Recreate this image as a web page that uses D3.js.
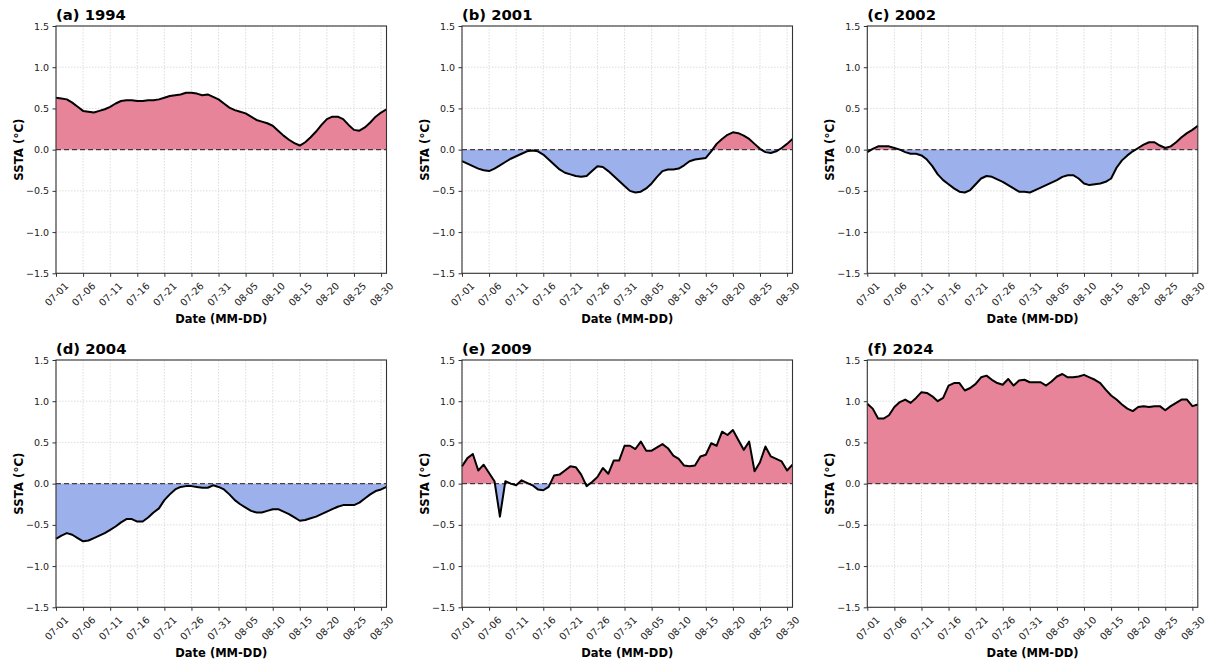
<!DOCTYPE html>
<html>
<head>
<meta charset="utf-8">
<script src="https://cdn.jsdelivr.net/npm/d3@7"></script>
<style>
    body { margin: 0; background: #fff; }
    svg { font-family: "DejaVu Sans", sans-serif; }
</style>
</head>
<body>
<div id="chart"></div>
<script>
// Dates 07-01 .. 08-31 (62 days)
var dates = [];
for (var i = 0; i < 62; i++) {
    var dd = new Date(2000, 6, 1 + i);
    dates.push(d3.timeFormat("%m-%d")(dd));
}
var tickDays = [0, 5, 10, 15, 20, 25, 30, 35, 40, 45, 50, 55, 60];
var yTicks = [-1.5, -1.0, -0.5, 0.0, 0.5, 1.0, 1.5];

var titles = ["(a) 1994", "(b) 2001", "(c) 2002", "(d) 2004", "(e) 2009", "(f) 2024"];

var ssta1994 = [0.63, 0.62, 0.61, 0.57, 0.52, 0.47, 0.46, 0.45, 0.47, 0.49,
    0.52, 0.56, 0.59, 0.60, 0.60, 0.59, 0.59, 0.60, 0.60, 0.61,
    0.63, 0.65, 0.66, 0.67, 0.69, 0.69, 0.68, 0.66, 0.67, 0.64,
    0.61, 0.56, 0.51, 0.48, 0.46, 0.44, 0.40, 0.36, 0.34, 0.32,
    0.29, 0.23, 0.17, 0.12, 0.08, 0.05, 0.09, 0.15, 0.22, 0.30,
    0.37, 0.40, 0.40, 0.37, 0.30, 0.24, 0.23, 0.27, 0.33, 0.40,
    0.45, 0.49];

var ssta2001 = [-0.14, -0.17, -0.20, -0.23, -0.25, -0.26, -0.23, -0.19, -0.15, -0.11,
    -0.08, -0.05, -0.02, -0.01, -0.02, -0.06, -0.12, -0.18, -0.24, -0.28,
    -0.30, -0.32, -0.33, -0.32, -0.26, -0.20, -0.21, -0.26, -0.32, -0.38,
    -0.44, -0.50, -0.52, -0.51, -0.47, -0.41, -0.33, -0.26, -0.24, -0.24,
    -0.23, -0.19, -0.14, -0.12, -0.11, -0.10, -0.02, 0.07, 0.13, 0.18,
    0.21, 0.20, 0.17, 0.13, 0.07, 0.01, -0.03, -0.04, -0.02, 0.02,
    0.07, 0.13];

var ssta2002 = [-0.03, 0.01, 0.04, 0.04, 0.04, 0.02, 0.00, -0.03, -0.05, -0.05,
    -0.07, -0.12, -0.20, -0.30, -0.37, -0.42, -0.47, -0.51, -0.52, -0.49,
    -0.42, -0.35, -0.32, -0.33, -0.36, -0.39, -0.43, -0.47, -0.51, -0.51,
    -0.52, -0.49, -0.46, -0.43, -0.40, -0.37, -0.33, -0.31, -0.31, -0.35,
    -0.41, -0.43, -0.42, -0.41, -0.39, -0.35, -0.22, -0.13, -0.07, -0.02,
    0.02, 0.06, 0.09, 0.09, 0.05, 0.02, 0.04, 0.09, 0.15, 0.20,
    0.24, 0.29];

var ssta2004 = [-0.67, -0.63, -0.60, -0.62, -0.66, -0.70, -0.69, -0.66, -0.63, -0.60,
    -0.56, -0.52, -0.47, -0.43, -0.43, -0.46, -0.46, -0.41, -0.35, -0.30,
    -0.20, -0.13, -0.07, -0.04, -0.03, -0.03, -0.04, -0.05, -0.05, -0.02,
    -0.04, -0.07, -0.13, -0.20, -0.25, -0.29, -0.33, -0.35, -0.35, -0.33,
    -0.31, -0.31, -0.34, -0.37, -0.41, -0.45, -0.44, -0.42, -0.40, -0.37,
    -0.34, -0.31, -0.28, -0.26, -0.26, -0.26, -0.23, -0.18, -0.13, -0.09,
    -0.07, -0.04];

var ssta2009 = [0.21, 0.31, 0.36, 0.16, 0.23, 0.13, 0.03, -0.40, 0.03, 0.00,
    -0.02, 0.04, 0.01, -0.02, -0.07, -0.08, -0.04, 0.10, 0.11, 0.16,
    0.21, 0.20, 0.11, -0.03, 0.02, 0.08, 0.19, 0.12, 0.28, 0.28,
    0.46, 0.46, 0.42, 0.51, 0.40, 0.40, 0.44, 0.48, 0.43, 0.34,
    0.30, 0.22, 0.21, 0.22, 0.33, 0.35, 0.49, 0.46, 0.63, 0.59,
    0.65, 0.53, 0.41, 0.51, 0.15, 0.26, 0.45, 0.33, 0.30, 0.27,
    0.16, 0.23];

var ssta2024 = [0.97, 0.91, 0.79, 0.79, 0.83, 0.93, 0.99, 1.02, 0.98, 1.04,
    1.11, 1.10, 1.06, 1.00, 1.04, 1.19, 1.22, 1.22, 1.13, 1.16,
    1.21, 1.29, 1.31, 1.26, 1.22, 1.20, 1.27, 1.19, 1.25, 1.26,
    1.23, 1.23, 1.23, 1.19, 1.24, 1.30, 1.33, 1.29, 1.29, 1.30,
    1.32, 1.29, 1.26, 1.22, 1.14, 1.07, 1.02, 0.96, 0.91, 0.88,
    0.93, 0.94, 0.93, 0.94, 0.94, 0.89, 0.94, 0.98, 1.02, 1.02,
    0.94, 0.96];

var seriesList = [ssta1994, ssta2001, ssta2002, ssta2004, ssta2009, ssta2024];

var svgWidth = 1210;
var svgHeight = 662;

// panel geometry (matches the matplotlib 2x3 grid)
var colLeft = [56, 462, 867.3];
var plotW = 330.5;
var rowTop = [26, 360];
var plotH = 247.3;

var svg = d3.select("#chart")
    .append("svg")
    .attr("width", svgWidth)
    .attr("height", svgHeight);

var xScale = d3.scaleLinear().domain([0, 61]).range([0, plotW]);
var yScale = d3.scaleLinear().domain([-1.5, 1.5]).range([plotH, 0]);

seriesList.forEach(function(values, k) {
    var col = k % 3;
    var row = Math.floor(k / 3);
    var data = values.map(function(v, i) { return { day: i, value: v }; });

    var g = svg.append("g")
        .attr("transform", `translate(${colLeft[col]}, ${rowTop[row]})`);

    // grid
    g.append("g").selectAll("line")
        .data(tickDays)
        .enter()
        .append("line")
        .attr("x1", d => xScale(d)).attr("x2", d => xScale(d))
        .attr("y1", 0).attr("y2", plotH)
        .attr("stroke", "#d4d4d4")
        .attr("stroke-width", 0.8)
        .attr("stroke-dasharray", "1.5,1.5");

    g.append("g").selectAll("line")
        .data(yTicks)
        .enter()
        .append("line")
        .attr("x1", 0).attr("x2", plotW)
        .attr("y1", d => yScale(d)).attr("y2", d => yScale(d))
        .attr("stroke", "#d4d4d4")
        .attr("stroke-width", 0.8)
        .attr("stroke-dasharray", "1.5,1.5");

    // clip paths for positive / negative fills
    var idPos = "clipPos" + k, idNeg = "clipNeg" + k;
    var defs = g.append("defs");
    defs.append("clipPath").attr("id", idPos)
        .append("rect")
        .attr("x", 0).attr("y", 0)
        .attr("width", plotW).attr("height", yScale(0));
    defs.append("clipPath").attr("id", idNeg)
        .append("rect")
        .attr("x", 0).attr("y", yScale(0))
        .attr("width", plotW).attr("height", plotH - yScale(0));

    var area = d3.area()
        .x(d => xScale(d.day))
        .y0(yScale(0))
        .y1(d => yScale(d.value));

    g.append("path")
        .datum(data)
        .attr("d", area)
        .attr("fill", "#e8849a")
        .attr("clip-path", `url(#${idPos})`);

    g.append("path")
        .datum(data)
        .attr("d", area)
        .attr("fill", "#9cb1ec")
        .attr("clip-path", `url(#${idNeg})`);

    // zero line
    g.append("line")
        .attr("x1", 0).attr("x2", plotW)
        .attr("y1", yScale(0)).attr("y2", yScale(0))
        .attr("stroke", "#000")
        .attr("stroke-opacity", 0.7)
        .attr("stroke-width", 1.3)
        .attr("stroke-dasharray", "5,3");

    // series line
    var line = d3.line()
        .x(d => xScale(d.day))
        .y(d => yScale(d.value));

    g.append("path")
        .datum(data)
        .attr("d", line)
        .attr("fill", "none")
        .attr("stroke", "#000")
        .attr("stroke-width", 2)
        .attr("stroke-linejoin", "round");

    // axes
    var bottomAxis = d3.axisBottom(xScale)
        .tickValues(tickDays)
        .tickSize(3.5)
        .tickFormat(d => dates[d]);
    var leftAxis = d3.axisLeft(yScale)
        .tickValues(yTicks)
        .tickSize(3.5)
        .tickFormat(d => d3.format(".1f")(d).replace("-", "\u2212"));

    var xAxis = g.append("g")
        .attr("transform", `translate(0, ${plotH})`)
        .call(bottomAxis);
    xAxis.select(".domain").remove();
    xAxis.selectAll(".tick line").attr("stroke", "#333");
    xAxis.selectAll(".tick text")
        .attr("font-size", 9.8)
        .attr("font-family", "DejaVu Sans")
        .attr("fill", "#222")
        .attr("y", 0)
        .attr("dy", 0)
        .attr("text-anchor", "middle")
        .attr("dominant-baseline", "central")
        .attr("transform", "translate(0, 21) rotate(-45)");

    var yAxis = g.append("g").call(leftAxis);
    yAxis.select(".domain").remove();
    yAxis.selectAll(".tick line").attr("stroke", "#333");
    yAxis.selectAll(".tick text")
        .attr("font-size", 9.5)
        .attr("font-family", "DejaVu Sans")
        .attr("fill", "#222")
        .attr("x", -7);

    // frame
    g.append("rect")
        .attr("x", 0).attr("y", 0)
        .attr("width", plotW).attr("height", plotH)
        .attr("fill", "none")
        .attr("stroke", "#333")
        .attr("stroke-width", 1.1);

    // titles and labels
    g.append("text")
        .attr("x", 0)
        .attr("y", -6)
        .attr("font-size", 14.8)
        .attr("font-weight", "bold")
        .text(titles[k]);

    g.append("text")
        .attr("x", plotW / 2)
        .attr("y", plotH + 46)
        .attr("dominant-baseline", "central")
        .attr("text-anchor", "middle")
        .attr("font-size", 11.5)
        .attr("font-weight", "bold")
        .text("Date (MM-DD)");

    g.append("text")
        .attr("transform", `translate(-37, ${plotH / 2}) rotate(-90)`)
        .attr("dominant-baseline", "central")
        .attr("text-anchor", "middle")
        .attr("font-size", 11.8)
        .attr("font-weight", "bold")
        .text("SSTA (°C)");
});
</script>
</body>
</html>
